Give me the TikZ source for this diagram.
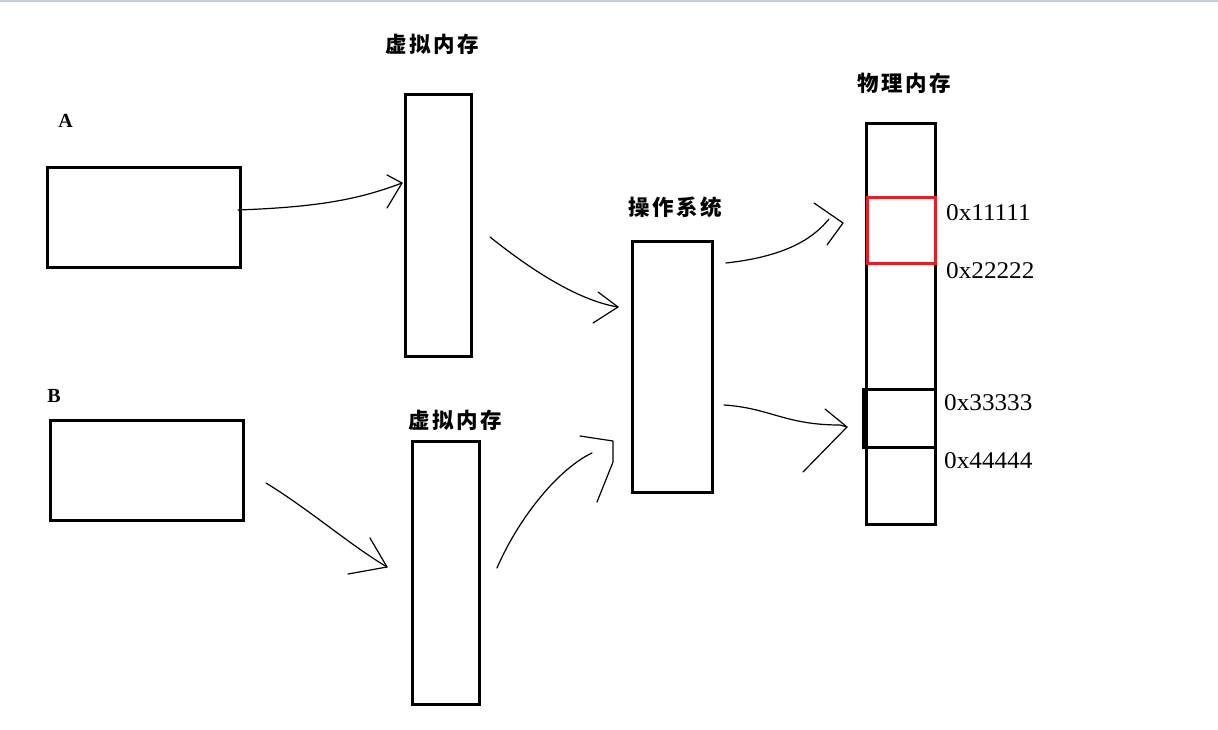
\documentclass[tikz,border=0pt]{standalone}
\usepackage{fontspec}
\setmainfont{Liberation Serif}
\newfontfamily\cjk{Noto Sans CJK SC}
\newfontfamily\hexfont[FakeStretch=1.05]{Liberation Serif}
\definecolor{topbar}{RGB}{195,205,225}
\definecolor{memred}{RGB}{237,28,36}
\begin{document}
\begin{tikzpicture}[x=1pt,y=-1pt,
  box/.style={draw, rectangle, line width=3pt, inner sep=0pt, outer sep=0pt},
  hand/.style={line width=1.2pt, line cap=round, line join=round},
  cjklabel/.style={inner sep=0pt, font=\cjk\bfseries\fontsize{21.5}{25}\selectfont},
  hexlabel/.style={anchor=west, inner sep=0pt, font=\hexfont\fontsize{24}{27}\selectfont},
  letter/.style={inner sep=0pt, font=\bfseries\fontsize{20}{24}\selectfont}]
\useasboundingbox (0,0) rectangle (1218,730);
\fill[topbar] (0,0) rectangle (1218,2);

% boxes
\node[box, minimum width=193pt, minimum height=100pt] (A) at (144,217.5) {};
\node[box, minimum width=193pt, minimum height=100pt] (B) at (147,470.5) {};
\node[box, minimum width=66pt, minimum height=262pt] (vm1) at (438.5,225.5) {};
\node[box, minimum width=67pt, minimum height=263pt] (vm2) at (446,573) {};
\node[box, minimum width=80pt, minimum height=251pt] (os) at (672.5,367) {};
\node[box, minimum width=69pt, minimum height=401pt] (pm) at (901,324) {};
\node[box, draw=memred, minimum width=68pt, minimum height=66pt] (red) at (901.5,230.5) {};
\node[box, minimum width=72pt, minimum height=58pt] (blk) at (899.5,418.5) {};

% labels
\node[letter] (la) at (65.5,121) {A};
\node[letter] (lb) at (54,396) {B};
\node[cjklabel] (lvm1) at (432,44) {虚\kern2.5pt 拟\kern2.5pt 内\kern2.5pt 存};
\node[cjklabel] (lvm2) at (455,420) {虚\kern2.5pt 拟\kern2.5pt 内\kern2.5pt 存};
\node[cjklabel] (los) at (675,207) {操\kern2.5pt 作\kern2.5pt 系\kern2.5pt 统};
\node[cjklabel] (lpm) at (904,83) {物\kern2.5pt 理\kern2.5pt 内\kern2.5pt 存};
\node[hexlabel] (h1) at (946,213) {0x11111};
\node[hexlabel] (h2) at (946,271) {0x22222};
\node[hexlabel] (h3) at (944,403) {0x33333};
\node[hexlabel] (h4) at (944,461) {0x44444};

% arrow coordinates
\coordinate (s1) at (238,210);   \coordinate (t1) at (402,183);
\coordinate (s2) at (490,237);   \coordinate (t2) at (618,307);
\coordinate (s3) at (266,483);   \coordinate (t3) at (387,567);
\coordinate (s4) at (497,568);   \coordinate (e4) at (592,453); \coordinate (t4) at (613,441);
\coordinate (s5) at (726,263);   \coordinate (e5) at (829,219); \coordinate (t5) at (843,223);
\coordinate (s6) at (724,405);   \coordinate (e6) at (840,425); \coordinate (t6) at (847,427);

% shafts
\draw[hand] (s1) .. controls (320,207) and (360,199) .. (t1);
\draw[hand] (s2) .. controls (525,265) and (575,300) .. (t2);
\draw[hand] (s3) .. controls (310,510) and (350,545) .. (t3);
\draw[hand] (s4) .. controls (520,515) and (560,468) .. (e4);
\draw[hand] (s5) .. controls (790,256) and (815,236) .. (e5);
\draw[hand] (s6) .. controls (770,408) and (785,425) .. (e6) -- (t6);

% heads
\draw[hand] (387,175) -- (t1) -- (387,208);
\draw[hand] (598,292) -- (t2) -- (593,323);
\draw[hand] (370,538) -- (t3) -- (348,574);
\draw[hand] (580,436) -- (t4) -- (613,462) -- (597,502);
\draw[hand] (814,203) -- (t5) -- (827,245);
\draw[hand] (825,409) -- (t6) -- (803,472);
\end{tikzpicture}
\end{document}
